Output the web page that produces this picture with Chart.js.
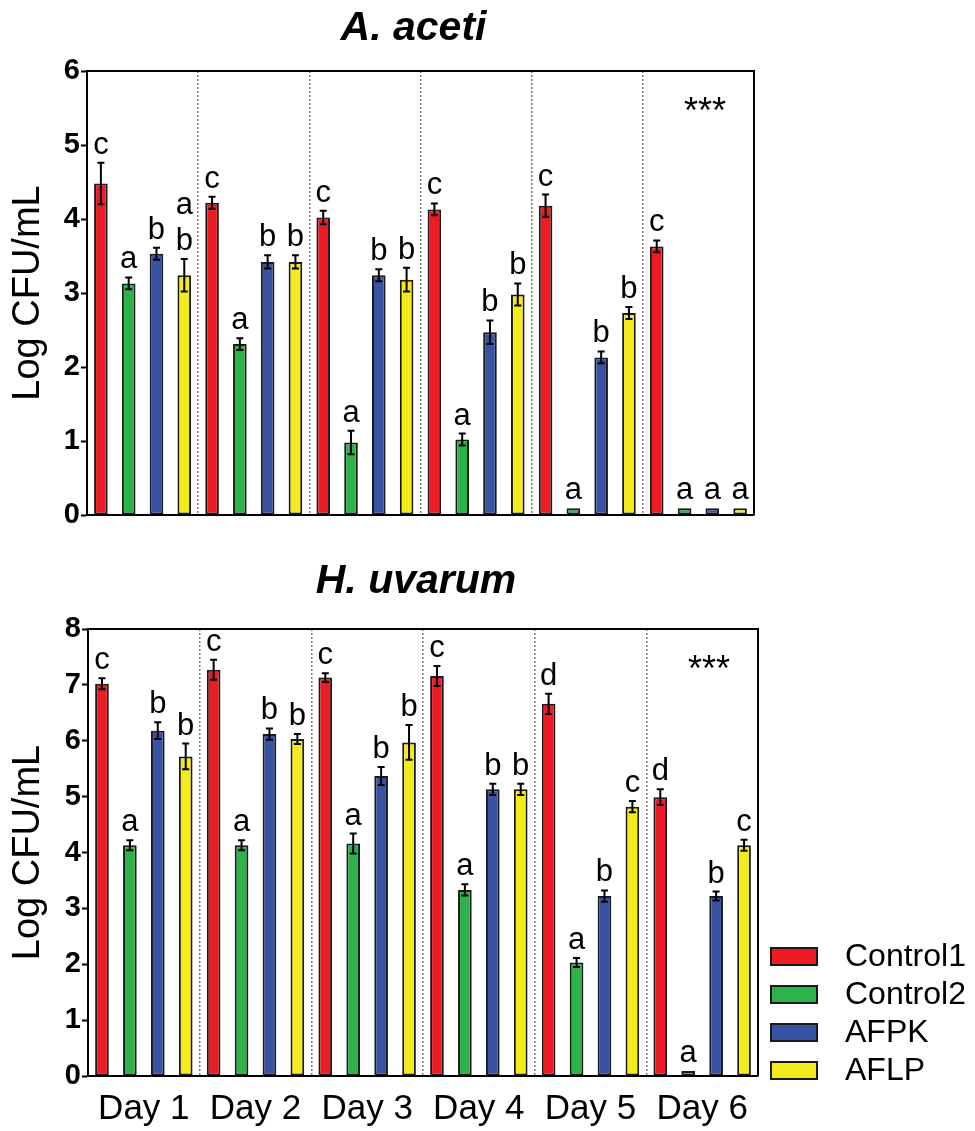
<!DOCTYPE html>
<html>
<head>
<meta charset="utf-8">
<script src="https://cdn.jsdelivr.net/npm/chart.js@4.4.1/dist/chart.umd.min.js"></script>
<style>
  html, body { margin: 0; padding: 0; background: #fff; }
  #wrapTop { position: absolute; left: 0; top: 0; width: 975px; height: 560px; }
  #wrapBottom { position: absolute; left: 0; top: 545px; width: 975px; height: 586px; }
</style>
</head>
<body>
<div id="wrapTop"><canvas id="chartTop" width="975" height="560"></canvas></div>
<div id="wrapBottom"><canvas id="chartBottom" width="975" height="586"></canvas></div>
<script>
// ---------- DATA ----------
const days = ['Day 1', 'Day 2', 'Day 3', 'Day 4', 'Day 5', 'Day 6'];
const seriesNames = ['Control1', 'Control2', 'AFPK', 'AFLP'];

// A. aceti
const acetiControl1 = [4.48, 4.22, 4.02, 4.13, 4.18, 3.63];
const acetiControl2 = [3.13, 2.31, 0.98, 1.02, 0.09, 0.09];
const acetiAFPK     = [3.53, 3.42, 3.24, 2.47, 2.13, 0.09];
const acetiAFLP     = [3.24, 3.42, 3.18, 2.98, 2.73, 0.09];
const acetiControl1Err = [0.28, 0.08, 0.09, 0.08, 0.15, 0.08];
const acetiControl2Err = [0.08, 0.08, 0.16, 0.08, 0, 0];
const acetiAFPKErr     = [0.08, 0.09, 0.08, 0.16, 0.08, 0];
const acetiAFLPErr     = [0.22, 0.09, 0.16, 0.15, 0.08, 0];
const acetiControl1Sig = ['c', 'c', 'c', 'c', 'c', 'c'];
const acetiControl2Sig = ['a', 'a', 'a', 'a', 'a', 'a'];
const acetiAFPKSig     = ['b', 'b', 'b', 'b', 'b', 'a'];
const acetiAFLPSig     = ['a\nb', 'b', 'b', 'b', 'b', 'a'];

// H. uvarum
const uvarumControl1 = [7.02, 7.27, 7.13, 7.16, 6.66, 4.99];
const uvarumControl2 = [4.13, 4.13, 4.16, 3.33, 2.03, 0.09];
const uvarumAFPK     = [6.18, 6.12, 5.37, 5.13, 3.22, 3.22];
const uvarumAFLP     = [5.72, 6.03, 5.97, 5.13, 4.82, 4.13];
const uvarumControl1Err = [0.10, 0.18, 0.08, 0.18, 0.18, 0.14];
const uvarumControl2Err = [0.09, 0.09, 0.18, 0.10, 0.08, 0];
const uvarumAFPKErr     = [0.15, 0.10, 0.16, 0.10, 0.10, 0.08];
const uvarumAFLPErr     = [0.23, 0.09, 0.31, 0.10, 0.10, 0.10];
const uvarumControl1Sig = ['c', 'c', 'c', 'c', 'd', 'd'];
const uvarumControl2Sig = ['a', 'a', 'a', 'a', 'a', 'a'];
const uvarumAFPKSig     = ['b', 'b', 'b', 'b', 'b', 'b'];
const uvarumAFLPSig     = ['b', 'b', 'b', 'b', 'c', 'c'];

const yTicksAceti = [0, 1, 2, 3, 4, 5, 6];
const yTicksUvarum = [0, 1, 2, 3, 4, 5, 6, 7, 8];
const significanceNote = '***';

// ---------- STYLE ----------
const FONT = "'Liberation Sans', Arial, Helvetica, sans-serif";
const colors = ['#ED1C24', '#2DB34A', '#3953A4', '#F4EB1B'];
Chart.defaults.font.family = FONT;
Chart.defaults.color = '#000';

function makeDatasets(values, errs, sigs) {
  return values.map((v, i) => ({
    label: seriesNames[i],
    data: v,
    errors: errs[i],
    sig: sigs[i],
    backgroundColor: colors[i],
    borderColor: '#1a1a1a',
    borderWidth: 2,
    borderSkipped: false,
    categoryPercentage: 1.0,
    barPercentage: 0.49
  }));
}

const errorAndLetters = {
  id: 'errorAndLetters',
  afterDatasetsDraw(chart) {
    const ctx = chart.ctx;
    const ys = chart.scales.y;
    chart.data.datasets.forEach((ds, di) => {
      const meta = chart.getDatasetMeta(di);
      meta.data.forEach((el, j) => {
        const v = ds.data[j];
        const e = ds.errors[j] || 0;
        const x = el.x;
        let top = el.y;
        ctx.save();
        if (e > 0) {
          const yT = ys.getPixelForValue(v + e);
          const yB = ys.getPixelForValue(v - e);
          ctx.strokeStyle = '#000';
          ctx.lineWidth = 2;
          ctx.beginPath();
          ctx.moveTo(x, yT); ctx.lineTo(x, yB);
          ctx.moveTo(x - 3.5, yT); ctx.lineTo(x + 3.5, yT);
          ctx.moveTo(x - 3.5, yB); ctx.lineTo(x + 3.5, yB);
          ctx.stroke();
          top = yT;
        }
        const lines = String(ds.sig[j]).split('\n');
        ctx.fillStyle = '#000';
        ctx.font = '31px ' + FONT;
        ctx.textAlign = 'center';
        ctx.textBaseline = 'alphabetic';
        let by = top - 9;
        for (let k = lines.length - 1; k >= 0; k--) {
          ctx.fillText(lines[k], x, by);
          by -= 36;
        }
        ctx.restore();
      });
    });
  }
};

const framePlugin = {
  id: 'frame',
  afterDraw(chart, args, opts) {
    const ctx = chart.ctx;
    const a = chart.chartArea;
    ctx.save();
    ctx.strokeStyle = '#000';
    ctx.lineWidth = 2;
    ctx.beginPath();
    ctx.moveTo(a.left, a.top);
    ctx.lineTo(a.right, a.top);
    ctx.lineTo(a.right, a.bottom);
    ctx.stroke();
    // title
    ctx.fillStyle = '#000';
    ctx.font = 'italic bold ' + opts.titleSize + 'px ' + FONT;
    ctx.textAlign = 'center';
    ctx.textBaseline = 'alphabetic';
    ctx.fillText(opts.title, (a.left + a.right) / 2 - 7, opts.titleBaseline);
    // significance stars
    ctx.font = '36px ' + FONT;
    ctx.fillText(significanceNote, a.right - 49, a.top + 52);
    ctx.restore();
  }
};

const legendPlugin = {
  id: 'customLegend',
  afterDraw(chart, args, opts) {
    if (!opts.show) return;
    const ctx = chart.ctx;
    ctx.save();
    chart.data.datasets.forEach((ds, i) => {
      const y = opts.top + i * 38;
      ctx.fillStyle = ds.backgroundColor;
      ctx.fillRect(opts.left, y, 48, 19);
      ctx.strokeStyle = '#1a1a1a';
      ctx.lineWidth = 2;
      ctx.strokeRect(opts.left + 1, y + 1, 46, 17);
      ctx.fillStyle = '#000';
      ctx.font = '32px ' + FONT;
      ctx.textAlign = 'left';
      ctx.textBaseline = 'middle';
      ctx.fillText(ds.label, opts.left + 75, y + 10.5);
    });
    ctx.restore();
  }
};

function gridColor(ctx) {
  if (ctx.index === undefined || ctx.index === 0) return 'rgba(0,0,0,0)';
  return '#7a7a7a';
}

function makeChart(id, datasets, yMax, yTicks, cfg) {
  return new Chart(document.getElementById(id), {
    type: 'bar',
    data: { labels: days, datasets },
    plugins: [errorAndLetters, framePlugin, legendPlugin],
    options: {
      responsive: false,
      animation: false,
      layout: { padding: cfg.padding },
      plugins: {
        legend: { display: false },
        tooltip: { enabled: false },
        frame: { title: cfg.title, titleSize: cfg.titleSize, titleBaseline: cfg.titleBaseline },
        customLegend: cfg.legend
      },
      scales: {
        x: {
          ticks: {
            display: cfg.showX,
            color: '#000',
            font: { size: 35, family: FONT },
            padding: 12,
            maxRotation: 0,
            autoSkip: false
          },
          grid: { offset: true, drawTicks: false, color: gridColor, lineWidth: 1.5 },
          border: { color: '#000', width: 2, dash: [2, 2] },
          afterFit(s) { s.height = cfg.xHeight; }
        },
        y: {
          min: 0,
          max: yMax,
          afterBuildTicks(s) { s.ticks = yTicks.map(v => ({ value: v })); },
          ticks: {
            color: '#000',
            font: { size: 29, weight: 'bold', family: FONT },
            padding: 1
          },
          grid: { drawOnChartArea: false, drawTicks: true, tickLength: 6, tickWidth: 2, tickColor: '#000' },
          border: { color: '#000', width: 2 },
          title: {
            display: true,
            text: 'Log CFU/mL',
            color: '#000',
            font: { size: 38, family: FONT },
            padding: { top: 6, bottom: 0 }
          },
          afterFit(s) { s.width = cfg.yWidth; }
        }
      }
    }
  });
}

makeChart('chartTop',
  makeDatasets([acetiControl1, acetiControl2, acetiAFPK, acetiAFLP],
               [acetiControl1Err, acetiControl2Err, acetiAFPKErr, acetiAFLPErr],
               [acetiControl1Sig, acetiControl2Sig, acetiAFPKSig, acetiAFLPSig]),
  6, yTicksAceti,
  { padding: { left: 0, right: 221, top: 71, bottom: 45 }, title: 'A. aceti', titleSize: 41, titleBaseline: 40,
    showX: false, xHeight: 0, yWidth: 87, legend: { show: false } });

makeChart('chartBottom',
  makeDatasets([uvarumControl1, uvarumControl2, uvarumAFPK, uvarumAFLP],
               [uvarumControl1Err, uvarumControl2Err, uvarumAFPKErr, uvarumAFLPErr],
               [uvarumControl1Sig, uvarumControl2Sig, uvarumAFPKSig, uvarumAFLPSig]),
  8, yTicksUvarum,
  { padding: { left: 0, right: 217, top: 84, bottom: 0 }, title: 'H. uvarum', titleSize: 41, titleBaseline: 48,
    showX: true, xHeight: 55, yWidth: 88, legend: { show: true, left: 770, top: 402 } });
</script>
</body>
</html>
